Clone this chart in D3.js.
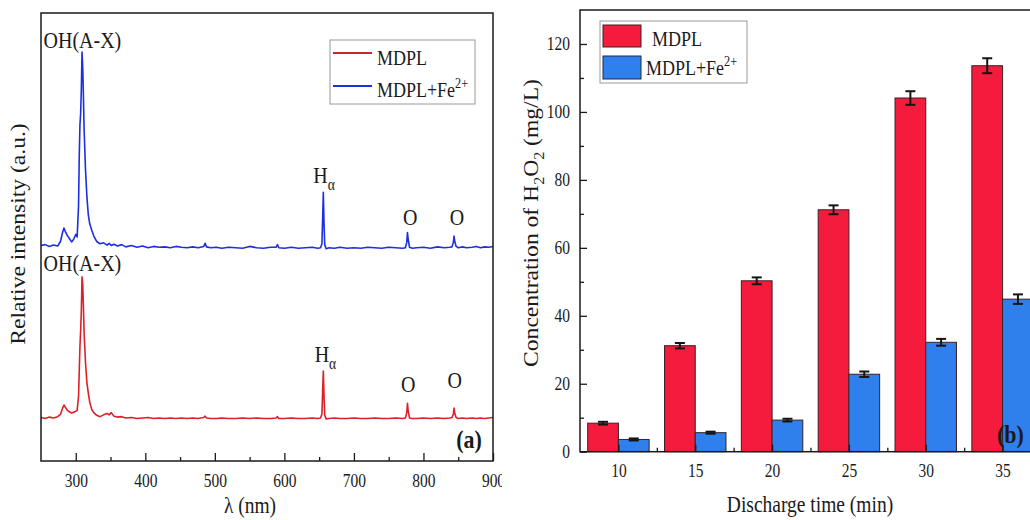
<!DOCTYPE html>
<html>
<head>
<meta charset="utf-8">
<script src="https://cdn.jsdelivr.net/npm/d3@7"></script>
<style>
  body { margin: 0; background: #fff; }
  svg text { font-family: "Liberation Serif", "DejaVu Serif", serif; fill: #1a1a1a; white-space: pre; }
</style>
</head>
<body>
<script>
// ---- panel (a): emission spectra ----
var wavelength = [
  250,256,262,268,274,278,281,283,285,288,
  291,294,297,300,302,304,305,306,307,308,
  309,310,311,312,314,316,318,320,323,326,
  330,335,340,345,348,351,355,360,366,372,
  380,388,396,404,412,420,428,436,444,452,
  460,468,476,484,486,488,494,502,510,520,
  530,540,550,560,570,580,588,590,592,600,
  610,620,630,640,648,652,654,655,656,657,
  658,660,664,672,680,690,700,710,720,730,
  740,750,760,770,774,776,777,778,780,784,
  790,800,810,820,830,838,841,843,844,845,
  847,850,856,862,870,876,882,888,894,900
];
var intensityFe = [
  48.1,48.3,47.9,48.2,48.0,49.0,51.0,52.0,51.2,50.3,
  49.6,48.9,49.5,50.6,50.0,57.0,68.0,75.0,77.5,83.0,
  91.3,88.0,81.5,74.0,65.0,59.0,55.0,53.0,51.5,50.2,
  49.0,48.5,48.7,48.2,48.6,48.1,48.4,48.0,48.3,47.8,
  48.1,47.7,48.0,47.6,47.9,47.7,47.8,47.6,47.9,47.7,
  47.6,47.8,47.6,47.9,48.6,47.8,47.6,47.7,47.5,47.7,
  47.6,47.5,47.9,47.6,47.5,47.7,47.7,48.3,47.6,47.5,
  47.7,47.5,47.6,47.7,47.5,47.6,48.5,54.0,60.0,53.0,
  48.3,47.4,47.6,47.5,47.7,47.5,47.6,47.5,47.7,47.6,
  47.5,47.7,47.6,47.5,47.6,48.8,51.0,49.5,47.7,47.5,
  47.6,47.7,47.5,47.8,47.6,47.7,47.8,48.8,50.2,49.0,
  47.9,47.6,47.8,47.6,47.7,47.9,47.6,47.8,47.7,47.9
];
var intensityMdpl = [
  9.7,9.5,9.8,9.6,9.9,10.4,11.8,12.5,12.0,11.3,
  11.0,10.7,10.9,11.1,11.3,14.5,20.0,25.5,29.0,33.5,
  41.1,39.5,34.5,28.5,22.0,17.5,15.2,13.2,11.5,10.8,
  10.2,9.9,10.3,10.6,10.3,10.8,10.0,9.8,9.9,9.6,
  9.7,9.5,9.6,9.7,9.5,9.6,9.5,9.6,9.5,9.6,
  9.5,9.6,9.5,9.7,10.0,9.6,9.5,9.5,9.6,9.5,
  9.5,9.6,9.5,9.6,9.5,9.5,9.6,9.9,9.5,9.5,
  9.6,9.5,9.5,9.6,9.5,9.6,10.5,15.5,20.1,14.5,
  10.2,9.4,9.5,9.6,9.5,9.5,9.6,9.5,9.5,9.6,
  9.5,9.5,9.6,9.5,9.6,10.8,12.9,11.2,9.6,9.5,
  9.5,9.6,9.5,9.6,9.5,9.6,9.7,10.5,11.8,10.6,
  9.7,9.5,9.6,9.5,9.6,9.5,9.6,9.5,9.6,9.7
];
var wlTicks = [300, 400, 500, 600, 700, 800, 900];
var wlMinor = [350, 450, 550, 650, 750, 850];
// peak labels: text, wavelength, height (a.u.)
var labelsFe = [
  {t: 'OH(A-X)', wl: 309.5, v: 92.2},
  {t: 'H', sub: 'α', wl: 657, v: 62.0},
  {t: 'O', wl: 781, v: 52.7},
  {t: 'O', wl: 848, v: 52.7}
];
var labelsMdpl = [
  {t: 'OH(A-X)', wl: 309.5, v: 42.4},
  {t: 'H', sub: 'α', wl: 659, v: 22.1},
  {t: 'O', wl: 778, v: 15.4},
  {t: 'O', wl: 845, v: 16.3}
];

// ---- panel (b): H2O2 concentration ----
var times = [10, 15, 20, 25, 30, 35];
var concMdpl = [8.4, 31.2, 50.3, 71.2, 104.1, 113.6];
var errMdpl = [0.4, 0.8, 1.0, 1.3, 2.0, 2.2];
var concFe = [3.6, 5.6, 9.3, 22.8, 32.2, 44.9];
var errFe = [0.3, 0.3, 0.4, 0.8, 1.0, 1.4];
var concTicks = [0, 20, 40, 60, 80, 100, 120];
var concMinor = [10, 30, 50, 70, 90, 110];
var timeMinor = [12.5, 17.5, 22.5, 27.5, 32.5];

var SY = 1.18; // the source figure is stretched vertically
var RED_LINE = '#dc1f28', BLUE_LINE = '#1d2fe0';
var RED_BAR = '#f41b3d', BLUE_BAR = '#2f80ec';

var svg = d3.select('body').append('svg').attr('width', 1030).attr('height', 520);

function rich(g, parts, size) {
  var t = g.append('text').attr('font-size', size);
  var shift = 0;
  parts.forEach(function(p) {
    var target = p.sub ? size * 0.3 : (p.sup ? -size * 0.42 : 0);
    t.append('tspan')
      .attr('dy', target - shift)
      .attr('font-size', (p.sub || p.sup) ? size * 0.68 : size)
      .text(p.t);
    shift = target;
  });
  return t;
}
function hText(g, x, y, parts, size) {
  return rich(g, parts, size).attr('transform', 'translate(' + x + ',' + y + ') scale(1,' + SY + ')');
}
function vText(g, x, y, parts, size) {
  return rich(g, parts, size).attr('text-anchor', 'middle')
    .attr('transform', 'translate(' + x + ',' + y + ') rotate(-90) scale(' + SY + ',1)');
}
function styleAxis(g, labelY, labelX) {
  g.select('.domain').remove();
  g.selectAll('line').attr('stroke', '#1a1a1a').attr('stroke-width', 1.3);
  g.selectAll('text').attr('y', null).attr('x', null).attr('dy', null)
    .attr('font-size', 15.5).attr('fill', '#1a1a1a')
    .attr('transform', 'translate(' + (labelX || 0) + ',' + labelY + ') scale(1,' + SY + ')');
}

// ================= panel (a) =================
var a = svg.append('g');
a.append('clipPath').attr('id', 'clipA').append('rect').attr('x', 0).attr('y', 0).attr('width', 502).attr('height', 520);
a.attr('clip-path', 'url(#clipA)');

var x = d3.scaleLinear().domain([250, 900]).range([41, 493]);
var y = d3.scaleLinear().domain([0, 100]).range([461, 13]);

var line = d3.line().x(function(d, i) { return x(wavelength[i]); });
a.append('path').datum(intensityMdpl)
  .attr('d', line.y(function(d) { return y(d); }))
  .attr('fill', 'none').attr('stroke', RED_LINE).attr('stroke-width', 1.6).attr('stroke-linejoin', 'round');
a.append('path').datum(intensityFe)
  .attr('d', line.y(function(d) { return y(d); }))
  .attr('fill', 'none').attr('stroke', BLUE_LINE).attr('stroke-width', 1.6).attr('stroke-linejoin', 'round');

a.append('g').attr('transform', 'translate(0,' + y(0) + ')')
  .call(d3.axisBottom(x).tickValues(wlTicks).tickSize(-8).tickFormat(d3.format('d')))
  .call(styleAxis, 26);
a.append('g').attr('transform', 'translate(0,' + y(0) + ')')
  .call(d3.axisBottom(x).tickValues(wlMinor).tickSize(-4).tickFormat(''))
  .call(styleAxis, 26);

a.append('rect').attr('x', x(250)).attr('y', y(100))
  .attr('width', x(900) - x(250)).attr('height', y(0) - y(100))
  .attr('fill', 'none').attr('stroke', '#1a1a1a').attr('stroke-width', 1.5);

function peakLabels(list) {
  list.forEach(function(l) {
    var parts = [{t: l.t}];
    if (l.sub) parts.push({t: l.sub, sub: true});
    hText(a, x(l.wl), y(l.v), parts, 20).attr('text-anchor', 'middle');
  });
}
peakLabels(labelsFe);
peakLabels(labelsMdpl);

hText(a, 469, 448, [{t: '(a)'}], 22).attr('text-anchor', 'middle').attr('font-weight', 'bold');

// legend (a)
a.append('rect').attr('x', 330).attr('y', 40).attr('width', 145).attr('height', 64)
  .attr('fill', '#fff').attr('stroke', '#9a9a9a').attr('stroke-width', 1);
a.append('line').attr('x1', 333).attr('x2', 372).attr('y1', 53).attr('y2', 53)
  .attr('stroke', '#c8262c').attr('stroke-width', 2);
a.append('line').attr('x1', 333).attr('x2', 372).attr('y1', 86).attr('y2', 86)
  .attr('stroke', BLUE_LINE).attr('stroke-width', 2);
hText(a, 377, 65, [{t: 'MDPL'}], 18);
hText(a, 377, 97, [{t: 'MDPL+Fe'}, {t: '2+', sup: true}], 18);

hText(a, 250, 513, [{t: 'λ (nm)'}], 19.5).attr('text-anchor', 'middle');
vText(a, 25, 234, [{t: 'Relative intensity (a.u.)'}], 20);

// ================= panel (b) =================
var b = svg.append('g');
var xb = d3.scaleLinear().domain([7.5, 37.5]).range([580, 1041]);
var yb = d3.scaleLinear().domain([0, 130]).range([451.7, 10]);
var hw = xb(9.5) - xb(7.5);
var sub = d3.scaleBand().domain(['MDPL', 'Fe']).range([-hw, hw]);

var groups = [
  {key: 'MDPL', vals: concMdpl, errs: errMdpl, color: RED_BAR},
  {key: 'Fe', vals: concFe, errs: errFe, color: BLUE_BAR}
];

groups.forEach(function(s) {
  b.append('g').selectAll('rect').data(s.vals).enter().append('rect')
    .attr('x', function(d, i) { return xb(times[i]) + sub(s.key); })
    .attr('y', function(d) { return yb(d); })
    .attr('width', sub.bandwidth())
    .attr('height', function(d) { return yb(0) - yb(d); })
    .attr('fill', s.color).attr('stroke', '#3a2226').attr('stroke-width', 1);
});

b.append('g').attr('transform', 'translate(0,' + yb(0) + ')')
  .call(d3.axisBottom(xb).tickValues(times).tickSize(-7).tickFormat(d3.format('d')))
  .call(styleAxis, 25.3);
b.append('g').attr('transform', 'translate(0,' + yb(0) + ')')
  .call(d3.axisBottom(xb).tickValues(timeMinor).tickSize(-4).tickFormat(''))
  .call(styleAxis, 25.3);
b.append('g').attr('transform', 'translate(' + xb(7.5) + ',0)')
  .call(d3.axisLeft(yb).tickValues(concTicks).tickSize(-7).tickFormat(d3.format('d')))
  .call(styleAxis, 6, -10);
b.append('g').attr('transform', 'translate(' + xb(7.5) + ',0)')
  .call(d3.axisLeft(yb).tickValues(concMinor).tickSize(-4).tickFormat(''))
  .call(styleAxis, 6, -10);

// error bars
groups.forEach(function(s) {
  var eg = b.append('g').attr('stroke', '#151515').attr('stroke-width', 2);
  s.vals.forEach(function(v, i) {
    var cx = xb(times[i]) + sub(s.key) + sub.bandwidth() / 2;
    var e = s.errs[i];
    eg.append('line').attr('x1', cx).attr('x2', cx).attr('y1', yb(v - e)).attr('y2', yb(v + e));
    eg.append('line').attr('x1', cx - 5).attr('x2', cx + 5).attr('y1', yb(v - e)).attr('y2', yb(v - e));
    eg.append('line').attr('x1', cx - 5).attr('x2', cx + 5).attr('y1', yb(v + e)).attr('y2', yb(v + e));
  });
});

b.append('rect').attr('x', xb(7.5)).attr('y', yb(130))
  .attr('width', xb(37.5) - xb(7.5)).attr('height', yb(0) - yb(130))
  .attr('fill', 'none').attr('stroke', '#1a1a1a').attr('stroke-width', 1.5);

// legend (b)
b.append('rect').attr('x', 600).attr('y', 21).attr('width', 147).attr('height', 62)
  .attr('fill', '#fff').attr('stroke', '#9a9a9a').attr('stroke-width', 1);
b.append('rect').attr('x', 603).attr('y', 25).attr('width', 38).attr('height', 22)
  .attr('fill', RED_BAR).attr('stroke', '#3a2226').attr('stroke-width', 1);
b.append('rect').attr('x', 603).attr('y', 56).attr('width', 38).attr('height', 23)
  .attr('fill', BLUE_BAR).attr('stroke', '#1d2a44').attr('stroke-width', 1);
hText(b, 652, 46, [{t: 'MDPL'}], 18);
hText(b, 646, 75, [{t: 'MDPL+Fe'}, {t: '2+', sup: true}], 18);

hText(b, 997, 443, [{t: '(b)'}], 22).attr('font-weight', 'bold');

hText(b, 810, 512, [{t: 'Discharge time (min)'}], 19.5).attr('text-anchor', 'middle');
vText(b, 538, 223, [{t: 'Concentration of H'}, {t: '2', sub: true}, {t: 'O'}, {t: '2', sub: true}, {t: ' (mg/L)'}], 20);
</script>
</body>
</html>
